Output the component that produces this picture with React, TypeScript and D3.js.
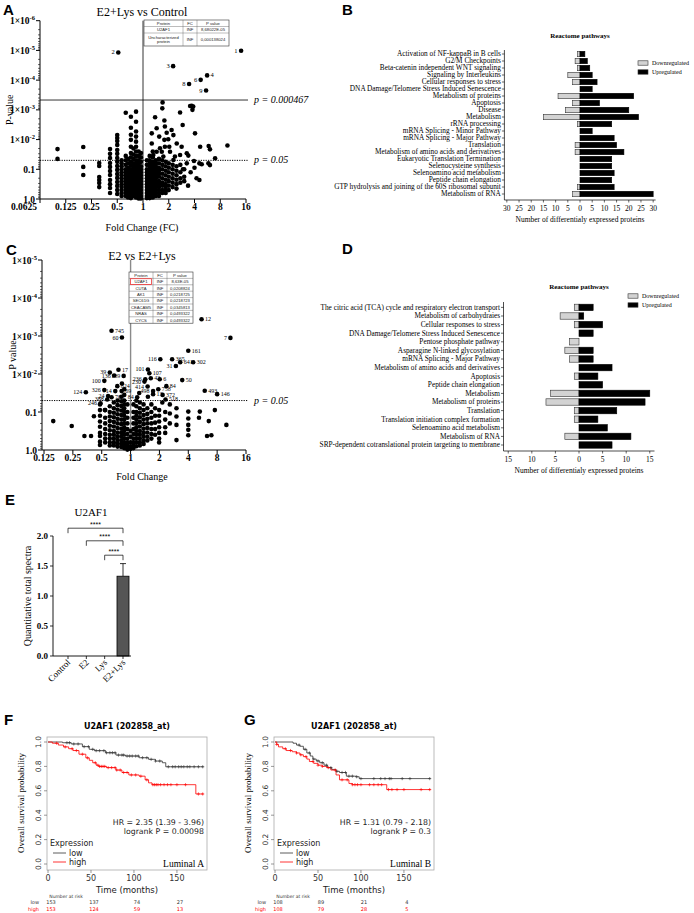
import React from 'react';
import * as d3 from 'd3';

const SERIF = '"Liberation Serif", "Times New Roman", serif';
const SANS = '"Liberation Sans", Arial, sans-serif';
const DJV = '"DejaVu Sans", Verdana, sans-serif';

// ---------- A: E2+Lys vs Control  (log2 FC, -log10 p) ----------
const aXTicks = ['0.0625', '0.125', '0.25', '0.5', '1', '2', '4', '8', '16'];
const aColumns: [number, number[]][] = [
  [-3.32, [1.68, 1.35]],
  [-2.32, [1.75, 1.08, 0.81]],
  [-1.7, [1.21, 1.11, 0.74, 0.64, 0.54, 0.4]],
  [-1.28, [1.68, 1.52, 1.38, 1.21, 1.08, 0.94, 0.81, 0.64, 0.5, 0.37, 0.2]],
  [-1.0, [2.15, 2.05, 1.95, 1.82, 1.65, 1.52, 1.38, 1.25, 1.11, 0.98, 0.84, 0.71, 0.57, 0.44, 0.3, 0.17]],
  [-0.83, [1.3, 1.2, 1.1, 1.0, 0.9, 0.8, 0.7, 0.6, 0.5, 0.4, 0.3, 0.2, 0.1]],
  [-0.67, [2.9, 1.45, 1.3, 1.15, 1.0, 0.9, 0.8, 0.7, 0.6, 0.5, 0.4, 0.3, 0.2, 0.1]],
  [-0.58, [1.35, 1.2, 1.05, 0.95, 0.85, 0.75, 0.65, 0.55, 0.45, 0.35, 0.25, 0.15, 0.05]],
  [-0.47, [2.77, 2.4, 2.16, 1.99, 1.76, 1.55, 1.4, 1.25, 1.12, 1.0, 0.9, 0.8, 0.7, 0.6, 0.5, 0.4, 0.3, 0.2, 0.1, 0.03]],
  [-0.37, [1.7, 1.5, 1.35, 1.2, 1.1, 1.0, 0.9, 0.8, 0.7, 0.6, 0.5, 0.4, 0.3, 0.2, 0.1]],
  [-0.27, [2.94, 2.6, 2.27, 2.1, 1.93, 1.76, 1.6, 1.45, 1.3, 1.18, 1.05, 0.95, 0.85, 0.75, 0.65, 0.55, 0.45, 0.35, 0.25, 0.15, 0.05]],
  [-0.17, [1.6, 1.45, 1.3, 1.2, 1.1, 1.0, 0.9, 0.8, 0.7, 0.6, 0.5, 0.4, 0.3, 0.2, 0.1, 0.02]],
  [-0.08, [1.55, 1.4, 1.25, 1.1, 1.0, 0.9, 0.8, 0.7, 0.6, 0.5, 0.4, 0.3, 0.2, 0.1, 0.02]],
  [0.15, [1.3, 1.15, 1.0, 0.9, 0.8, 0.7, 0.6, 0.5, 0.4, 0.3, 0.2, 0.1, 0.03]],
  [0.26, [1.45, 1.3, 1.2, 1.1, 1.0, 0.9, 0.8, 0.7, 0.6, 0.5, 0.4, 0.3, 0.2, 0.1, 0.03]],
  [0.38, [1.6, 1.4, 1.25, 1.15, 1.05, 0.95, 0.85, 0.75, 0.65, 0.55, 0.45, 0.35, 0.25, 0.15, 0.05]],
  [0.5, [1.3, 1.2, 1.1, 1.0, 0.9, 0.8, 0.7, 0.6, 0.5, 0.4, 0.3, 0.2, 0.1]],
  [0.62, [1.35, 1.2, 1.05, 0.95, 0.85, 0.75, 0.6, 0.5, 0.4, 0.3, 0.2, 0.1]],
  [0.75, [1.3, 1.15, 1.0, 0.85, 0.7, 0.55, 0.45, 0.3, 0.2]],
  [0.88, [1.25, 1.1, 0.95, 0.8, 0.65, 0.5, 0.4, 0.3, 0.2]],
  [1.0, [1.2, 1.05, 0.9, 0.75, 0.6, 0.45, 0.3]],
  [1.15, [1.15, 1.0, 0.85, 0.7, 0.55, 0.4]],
  [1.3, [1.1, 0.95, 0.8, 0.65, 0.5]],
  [1.45, [1.15, 0.9, 0.7, 0.55]],
  [1.6, [1.0, 0.75, 0.6]],
];
const aScatter: [number, number][] = [
  [0.76, 3.25], [0.75, 3.05], [0.47, 2.75], [0.83, 2.64], [1.44, 2.91], [1.83, 3.13], [1.89, 3.14],
  [1.95, 3.11], [1.92, 3.0], [1.54, 2.49], [1.11, 2.32], [2.02, 2.21], [2.22, 1.76], [2.55, 1.78],
  [2.6, 1.67], [3.28, 1.8], [2.8, 1.37], [1.76, 1.46], [1.98, 1.28], [2.19, 1.2], [2.54, 1.2],
  [2.6, 1.14], [2.28, 1.17], [0.34, 2.21], [0.53, 2.38], [0.85, 2.44], [0.92, 2.23], [0.63, 2.1],
  [0.83, 1.99], [0.98, 2.01], [1.18, 2.15], [1.31, 1.87], [1.5, 1.76], [0.85, 1.76], [0.66, 1.71],
  [0.53, 1.59], [1.05, 1.59], [1.24, 1.43], [1.44, 1.48], [1.7, 1.54], [0.79, 1.43], [0.34, 1.87],
  [0.4, 1.48], [0.73, 1.59], [1.02, 1.76], [1.18, 1.31], [1.7, 1.2], [1.55, 1.0], [2.08, 0.7],
  [2.19, 0.64], [1.85, 0.9], [1.3, 0.35], [1.75, 0.45], [2.0, 1.05],
];
const aLabeled: [string, number, number, string][] = [
  ['1', 3.81, 4.99, 'l'], ['2', -0.96, 4.93, 'l'], ['3', 1.17, 4.47, 'l'], ['4', 2.49, 4.16, 'r'],
  ['6', 2.24, 4.01, 'l'], ['8', 1.79, 3.87, 'l'], ['9', 2.45, 3.65, 'l'],
];
const aTableHead = ['Protein', 'FC', 'P value'];
const aTableRows = [['U2AF1', 'INF', '8,68022E-05'], ['Uncharacterized\nprotein', 'INF', '0,000138024']];

// ---------- C: E2 vs E2+Lys ----------
const cXTicks = ['0.125', '0.25', '0.5', '1', '2', '4', '8', '16'];
const cColumns: [number, number[]][] = [
  [-1.06, [1.2, 1.05, 0.9, 0.75, 0.61, 0.45, 0.37, 0.22, 0.13]],
  [-0.88, [1.05, 0.85, 0.7, 0.55, 0.42, 0.3, 0.2]],
  [-0.72, [1.15, 1.0, 0.88, 0.76, 0.64, 0.52, 0.4, 0.3, 0.2, 0.12]],
  [-0.58, [1.25, 1.1, 0.98, 0.86, 0.74, 0.62, 0.5, 0.4, 0.3, 0.2, 0.12]],
  [-0.45, [1.3, 1.18, 1.06, 0.94, 0.82, 0.7, 0.58, 0.46, 0.36, 0.26, 0.17, 0.09]],
  [-0.32, [1.4, 1.28, 1.16, 1.04, 0.92, 0.8, 0.68, 0.56, 0.45, 0.35, 0.25, 0.16, 0.08]],
  [-0.22, [1.6, 1.45, 1.3, 1.2, 1.1, 1.0, 0.9, 0.8, 0.7, 0.6, 0.5, 0.4, 0.3, 0.2, 0.12, 0.05]],
  [-0.11, [1.2, 1.0, 0.85, 0.7, 0.55, 0.42, 0.3, 0.2, 0.12, 0.05, 0.01]],
  [0.0, [0.5, 0.35, 0.2, 0.1, 0.03]],
  [0.1, [1.2, 1.0, 0.85, 0.7, 0.55, 0.42, 0.3, 0.2, 0.12, 0.05]],
  [0.2, [1.3, 1.15, 1.0, 0.9, 0.8, 0.7, 0.6, 0.5, 0.4, 0.3, 0.2, 0.1]],
  [0.32, [1.25, 1.1, 0.98, 0.86, 0.74, 0.62, 0.5, 0.4, 0.3, 0.2, 0.12]],
  [0.45, [1.2, 1.05, 0.92, 0.8, 0.68, 0.56, 0.45, 0.35, 0.25, 0.16]],
  [0.58, [1.1, 0.95, 0.82, 0.7, 0.58, 0.46, 0.35, 0.25]],
  [0.72, [1.2, 1.0, 0.85, 0.7, 0.55, 0.42, 0.3]],
  [0.85, [1.1, 0.9, 0.72, 0.55, 0.4]],
  [0.99, [1.05, 0.9, 0.75, 0.6, 0.45, 0.3, 0.2]],
  [1.2, [1.0, 0.8, 0.6, 0.45]],
  [1.36, [0.96, 0.7]],
  [1.59, [1.1, 0.88, 0.66, 0.26]],
  [2.0, [1.01, 0.83, 0.66, 0.53, 0.39]],
];
const cScatter: [number, number][] = [
  [-2.68, 0.76], [-2.04, 0.63], [-1.6, 0.37], [-1.37, 0.37], [-1.27, 0.89], [-0.89, 1.05],
  [2.4, 1.01], [2.37, 0.85], [2.71, 0.76], [2.92, 1.05], [3.32, 0.66], [2.65, 0.37], [2.8, 0.39],
  [1.36, 1.2], [1.1, 1.25], [-0.3, 1.75], [0.3, 1.5], [0.6, 1.4],
];
const cLabeled: [string, number, number, string][] = [
  ['745', -0.66, 3.14, 'r'], ['60', -0.3, 2.96, 'l'], ['12', 2.46, 3.44, 'r'], ['7', 3.46, 2.95, 'l'],
  ['161', 2.0, 2.61, 'r'], ['365', 1.44, 2.39, 'r'], ['116', 1.03, 2.39, 'l'], ['641', 1.72, 2.31, 'r'],
  ['302', 2.17, 2.31, 'r'], ['31', 1.57, 2.21, 'l'], ['17', -0.42, 2.11, 'r'], ['39', -0.72, 2.04, 'l'],
  ['136', -0.57, 1.96, 'l'], ['189', -0.24, 1.95, 'l'], ['100', -0.91, 1.82, 'l'], ['101', 0.6, 2.12, 'l'],
  ['107', 0.65, 2.02, 'r'], ['236', 0.51, 1.86, 'l'], ['42', 0.7, 1.89, 'r'], ['6', 1.01, 1.86, 'r'],
  ['230', 0.48, 1.8, 'l'], ['50', 1.79, 1.84, 'r'], ['414', 0.59, 1.67, 'l'], ['84', 1.24, 1.68, 'r'],
  ['824', -0.46, 1.68, 'r'], ['326', -0.91, 1.58, 'l'], ['714', -0.53, 1.55, 'l'], ['69', -0.31, 1.55, 'r'],
  ['498', 0.78, 1.55, 'l'], ['758', 0.96, 1.6, 'r'], ['13', 0.78, 1.47, 'r'], ['372', 1.11, 1.45, 'r'],
  ['493', 2.57, 1.56, 'r'], ['146', 3.0, 1.47, 'r'], ['124', -1.55, 1.52, 'l'], ['24', -0.78, 1.42, 'l'],
  ['703', -0.66, 1.39, 'r'], ['388', -0.81, 1.33, 'l'], ['246', -1.04, 1.23, 'l'], ['84', 0.23, 1.39, 'l'],
  ['518', 1.21, 1.33, 'r'],
];
const cTableHead = ['Protein', 'FC', 'P value'];
const cTableRows = [
  ['U2AF1', 'INF', '8,63E-05'], ['CUTA', 'INF', '0,0208824'], ['AK1', 'INF', '0,0218725'],
  ['SEC61G', 'INF', '0,0218723'], ['CEACAM5', 'INF', '0,0345813'], ['NRAS', 'INF', '0,0493322'],
  ['CYCS', 'INF', '0,0493322'],
];

// ---------- B: Reactome pathways (E2+Lys vs Control) ----------
const bPathways = [
  'Activation of NF-kappaB in B cells', 'G2/M Checkpoints', 'Beta-catenin independent WNT signaling',
  'Signaling by Interleukins', 'Cellular responses to stress', 'DNA Damage/Telomere Stress Induced Senescence',
  'Metabolism of proteins', 'Apoptosis', 'Disease', 'Metabolism', 'rRNA processing',
  'mRNA Splicing - Minor Pathway', 'mRNA Splicing - Major Pathway', 'Translation',
  'Metabolism of amino acids and derivatives', 'Eukaryotic Translation Termination',
  'Selenocysteine synthesis', 'Selenoamino acid metabolism', 'Peptide chain elongation',
  'GTP hydrolysis and joining of the 60S ribosomal subunit', 'Metabolism of RNA',
];
const bDown = [1, 2, 1, 5, 3, 0, 9, 3, 6, 15, 1, 0, 0, 2, 2, 0, 0, 0, 0, 1, 3];
const bUp = [2, 3, 4, 5, 7, 5, 22, 8, 20, 24, 13, 5, 14, 15, 18, 13, 13, 14, 13, 14, 30];

// ---------- D: Reactome pathways (E2 vs E2+Lys) ----------
const dPathways = [
  'The citric acid (TCA) cycle and respiratory electron transport', 'Metabolism of carbohydraies',
  'Cellular responses to stress', 'DNA Damage/Telomere Stress Induced Senescence', 'Pentose phosphate pathway',
  'Asparagine N-linked glycosylation', 'mRNA Splicing - Major Pathway', 'Metabolism of amino acids and derivatives',
  'Apoptosis', 'Peptide chain elongation', 'Metabolism', 'Metabolism of proteins', 'Translation',
  'Translation initiation complex formation', 'Selenoamino acid metabolism', 'Metabolism of RNA',
  'SRP-dependent cotranslational protein targeting to membrane',
];
const dDown = [1, 4, 1, 0, 2, 3, 2, 0, 1, 0, 6, 7, 1, 1, 0, 3, 0];
const dUp = [3, 1, 5, 3, 0, 3, 3, 7, 4, 5, 15, 14, 8, 4, 6, 11, 7];

// ---------- E: U2AF1 spectra ----------
const eGroups = ['Control', 'E2', 'Lys', 'E2+Lys'];
const eMeans = [0, 0, 0, 1.33];
const eErr = [0, 0, 0, 0.21];
const eBrackets: [string, string, number][] = [['Control', 'E2+Lys', 2.13], ['E2', 'E2+Lys', 1.92], ['Lys', 'E2+Lys', 1.68]];

// ---------- F / G: Kaplan-Meier (months, survival) ----------
const fLow: [number, number][] = [[0, 1], [17, 0.994], [27, 0.984], [40, 0.962], [48, 0.94], [54, 0.929], [67, 0.912], [79, 0.893], [90, 0.885], [106, 0.871], [117, 0.858], [125, 0.844], [133, 0.83], [137, 0.797], [181, 0.797]];
const fHigh: [number, number][] = [[0, 1], [5, 0.99], [12, 0.975], [18, 0.96], [24, 0.945], [29, 0.93], [36, 0.9], [44, 0.87], [48, 0.85], [52, 0.83], [56, 0.81], [59, 0.8], [68, 0.79], [79, 0.77], [86, 0.75], [94, 0.73], [106, 0.72], [113, 0.69], [117, 0.665], [121, 0.65], [172, 0.574], [181, 0.574]];
const fLowCens = [22, 25, 30, 35, 42, 47, 52, 56, 60, 65, 68, 72, 75, 78, 82, 86, 88, 92, 95, 98, 102, 105, 110, 115, 120, 125, 130, 140, 145, 148, 152, 155, 158, 162, 165, 170, 175, 180];
const fHighCens = [10, 20, 28, 33, 40, 46, 55, 58, 60, 62, 64, 66, 70, 74, 78, 80, 84, 88, 92, 97, 102, 108, 115, 122, 124, 126, 128, 131, 135, 139, 143, 150, 160, 175, 180];
const gLow: [number, number][] = [[0, 1], [21, 0.99], [25, 0.975], [29, 0.965], [33, 0.94], [37, 0.91], [41, 0.885], [44, 0.86], [48, 0.845], [52, 0.83], [57, 0.81], [61, 0.79], [66, 0.775], [71, 0.76], [75, 0.75], [83, 0.72], [94, 0.715], [98, 0.7], [181, 0.7]];
const gHigh: [number, number][] = [[0, 1], [2, 0.98], [4, 0.96], [9, 0.945], [13, 0.93], [20, 0.92], [25, 0.91], [29, 0.895], [33, 0.88], [37, 0.86], [40, 0.84], [45, 0.825], [50, 0.81], [55, 0.8], [60, 0.79], [65, 0.77], [71, 0.73], [75, 0.69], [86, 0.66], [90, 0.65], [130, 0.61], [181, 0.61]];
const gLowCens = [28, 35, 40, 45, 50, 55, 60, 65, 72, 78, 82, 86, 90, 95, 100, 115, 123, 128, 133, 135, 148, 157, 180];
const gHighCens = [2, 12, 18, 25, 30, 36, 44, 50, 55, 62, 70, 78, 84, 90, 93, 96, 100, 110, 115, 120, 124, 132, 136, 142, 150, 170, 180];
const riskTimes = [0, 50, 100, 150];
const fRiskLow = [153, 137, 74, 27];
const fRiskHigh = [153, 124, 59, 13];
const gRiskLow = [108, 89, 21, 4];
const gRiskHigh = [108, 79, 28, 5];

function yTickLabel(n: number) {
  if (n === 0) return '1.0';
  if (n === 1) return '0.1';
  return (
    <>
      1×10<tspan dy={-4} fontSize={6.5}>-{n}</tspan>
    </>
  );
}

function Table({ colEdges, rowEdges, head, rows, highlight }: any) {
  const all = [head, ...rows];
  return (
    <g fontFamily={SANS} fontSize={4.2} fill="#222">
      <rect x={colEdges[0]} y={rowEdges[0]} width={colEdges[3] - colEdges[0]} height={rowEdges[rowEdges.length - 1] - rowEdges[0]} fill="#fff" stroke="#333" strokeWidth={0.6} />
      {rowEdges.slice(1, -1).map((r: number, i: number) => (
        <line key={'r' + i} x1={colEdges[0]} x2={colEdges[3]} y1={r} y2={r} stroke="#555" strokeWidth={0.4} />
      ))}
      {colEdges.slice(1, -1).map((c: number, i: number) => (
        <line key={'c' + i} x1={c} x2={c} y1={rowEdges[0]} y2={rowEdges[rowEdges.length - 1]} stroke="#555" strokeWidth={0.4} />
      ))}
      {all.map((row: string[], ri: number) =>
        row.map((cell, ci) => {
          const cx = (colEdges[ci] + colEdges[ci + 1]) / 2;
          const cy = (rowEdges[ri] + rowEdges[ri + 1]) / 2;
          const lines = cell.split('\n');
          return (
            <text key={ri + '-' + ci} x={cx} y={cy + 1.5 - (lines.length - 1) * 2.3} textAnchor="middle">
              {lines.map((l, li) => (
                <tspan key={li} x={cx} dy={li === 0 ? 0 : 4.6}>{l}</tspan>
              ))}
            </text>
          );
        })
      )}
      {highlight !== undefined && (
        <rect x={colEdges[0] + 1.5} y={rowEdges[highlight + 1] + 0.3} width={colEdges[1] - colEdges[0] - 3} height={rowEdges[highlight + 2] - rowEdges[highlight + 1] - 0.6} fill="none" stroke="#e33" strokeWidth={0.8} />
      )}
    </g>
  );
}

function Volcano(p: any) {
  const x = d3.scaleLinear().domain(p.l2Domain).range([p.left, p.right]);
  const y = d3.scaleLinear().domain([0, p.nlpMax]).range([p.bottom, p.top]);
  const pts: [number, number][] = p.columns
    .flatMap(([l2, vs]: [number, number[]]) => vs.map((v) => [l2, v] as [number, number]))
    .concat(p.scatter);
  const majors = d3.range(0, p.nlpMax + 1);
  const minors = d3.range(0, p.nlpMax).flatMap((d) => d3.range(2, 10).map((k) => d + 1 - Math.log10(k)));
  const xt = d3.range(p.firstL2, p.firstL2 + p.xTicks.length);
  return (
    <g fontFamily={SERIF} fill="#000">
      <text x={p.titleX} y={p.titleY} textAnchor="middle" fontSize={12}>{p.title}</text>
      {/* vertical FC = 1 line */}
      <line x1={x(0)} x2={x(0)} y1={p.top} y2={p.bottom} stroke={p.midColor} strokeWidth={p.midWidth} />
      {p.cutoffs.map((c: any, i: number) => (
        <g key={i}>
          <line x1={p.left} x2={p.right + 2} y1={y(c.nlp)} y2={y(c.nlp)} stroke="#000" strokeWidth={c.dotted ? 1 : 0.8} strokeDasharray={c.dotted ? '1.2 1.2' : undefined} />
          <text x={p.right + 8} y={y(c.nlp) + 3} fontSize={10} fontStyle="italic">{c.label}</text>
        </g>
      ))}
      {pts.map((d, i) => (
        <circle key={i} cx={x(d[0])} cy={y(d[1])} r={2.3} fill="#000" />
      ))}
      {p.labeled.map(([lab, l2, v, side]: [string, number, number, string], i: number) => (
        <g key={'lab' + i}>
          <circle cx={x(l2)} cy={y(v)} r={2.3} fill="#000" />
          <text x={x(l2) + (side === 'r' ? 3.5 : -3.5)} y={y(v) + 2} fontSize={p.labelSize} fill="#000" textAnchor={side === 'r' ? 'start' : 'end'}>{lab}</text>
        </g>
      ))}
      {p.table && <Table {...p.table} />}
      {/* axes */}
      <line x1={p.left} x2={p.left} y1={p.top} y2={p.bottom} stroke="#000" strokeWidth={1} />
      <line x1={p.left} x2={p.right} y1={p.bottom} y2={p.bottom} stroke="#000" strokeWidth={1} />
      {majors.map((m) => (
        <g key={'m' + m}>
          <line x1={p.left - 4} x2={p.left} y1={y(m)} y2={y(m)} stroke="#000" />
          <text x={p.left - 5} y={y(m) + 3.5} textAnchor="end" fontSize={9.5} fontWeight="bold">{yTickLabel(m)}</text>
        </g>
      ))}
      {minors.map((m, i) => (
        <line key={'n' + i} x1={p.left - 2} x2={p.left} y1={y(m)} y2={y(m)} stroke="#000" strokeWidth={0.6} />
      ))}
      {xt.map((t, i) => (
        <g key={'x' + t}>
          <line x1={x(t)} x2={x(t)} y1={p.bottom} y2={p.bottom + 4} stroke="#000" />
          <text x={x(t) + (i === 0 ? p.firstTickDx : 0)} y={p.bottom + 11} textAnchor="middle" fontSize={9.5} fontWeight="bold">{p.xTicks[i]}</text>
        </g>
      ))}
      <text x={p.titleX} y={p.xLabelY} textAnchor="middle" fontSize={10}>{p.xLabel}</text>
      <text transform={`translate(${p.yLabelX},${(p.top + p.bottom) / 2}) rotate(-90)`} textAnchor="middle" fontSize={10}>{p.yLabel}</text>
    </g>
  );
}

function Pathways(p: any) {
  const x = d3.scaleLinear().domain(p.domain).range(p.range);
  const n = p.cats.length;
  const y = d3.scaleBand().domain(p.cats).range([p.rowTop - p.rowStep / 2, p.rowTop + (n - 0.5) * p.rowStep]);
  const yc = (c: string) => (y(c) as number) + y.bandwidth() / 2;
  const ticks = d3.range(-p.tickMax, p.tickMax + 1, 5);
  const axisX = p.range[0];
  return (
    <g fontFamily={SERIF} fill="#000">
      <text x={x(0)} y={p.titleY} textAnchor="middle" fontSize={7} fontWeight="bold">Reactome pathways</text>
      {['Downregulated', 'Upregulated'].map((t, i) => (
        <g key={t}>
          <rect x={p.legendX} y={p.legendY + i * 9 - 2.2} width={10} height={4.4} fill={i === 0 ? '#d3d3d3' : '#000'} stroke="#333" strokeWidth={0.6} />
          <text x={p.legendX + 14} y={p.legendY + i * 9 + 2} fontSize={6}>{t}</text>
        </g>
      ))}
      {p.cats.map((c: string, i: number) => (
        <g key={c}>
          {p.down[i] > 0 && (
            <rect x={x(-p.down[i])} y={yc(c) - p.barH / 2} width={x(0) - x(-p.down[i])} height={p.barH} fill="#d3d3d3" stroke="#333" strokeWidth={0.6} />
          )}
          {p.up[i] > 0 && (
            <rect x={x(0)} y={yc(c) - p.barH / 2} width={x(p.up[i]) - x(0)} height={p.barH} fill="#000" stroke="#000" strokeWidth={0.6} />
          )}
          <line x1={axisX - 2.5} x2={axisX} y1={yc(c)} y2={yc(c)} stroke="#000" strokeWidth={0.6} />
          <text x={axisX - 3.5} y={yc(c) + 2.4} textAnchor="end" fontSize={p.labelSize}>{c}</text>
        </g>
      ))}
      <line x1={axisX} x2={axisX} y1={p.axisTop} y2={p.axisY} stroke="#000" strokeWidth={0.7} />
      <line x1={p.range[0]} x2={p.range[1]} y1={p.axisY} y2={p.axisY} stroke="#000" strokeWidth={0.7} />
      {ticks.map((t) => (
        <g key={t}>
          <line x1={x(t)} x2={x(t)} y1={p.axisY} y2={p.axisY + 2.5} stroke="#000" strokeWidth={0.6} />
          <text x={x(t)} y={p.axisY + 11} textAnchor="middle" fontSize={7.5}>{Math.abs(t)}</text>
        </g>
      ))}
      <text x={x(0)} y={p.axisY + 22} textAnchor="middle" fontSize={7.5}>Number of differentialy expressed proteins</text>
    </g>
  );
}

function BarE() {
  const x = d3.scalePoint().domain(eGroups).range([68, 123]);
  const y = d3.scaleLinear().domain([0, 2]).range([656, 536]);
  const yt = d3.range(0, 2.01, 0.5);
  return (
    <g fontFamily={SERIF} fill="#000">
      <text x={91} y={516} textAnchor="middle" fontSize={11}>U2AF1</text>
      {eGroups.map((g, i) => (
        <g key={g}>
          {eMeans[i] > 0 && (
            <g>
              <line x1={x(g)} x2={x(g)} y1={y(eMeans[i])} y2={y(eMeans[i] + eErr[i])} stroke="#000" strokeWidth={0.8} />
              <line x1={(x(g) as number) - 3} x2={(x(g) as number) + 3} y1={y(eMeans[i] + eErr[i])} y2={y(eMeans[i] + eErr[i])} stroke="#000" strokeWidth={0.8} />
              <rect x={(x(g) as number) - 6} y={y(eMeans[i])} width={12} height={y(0) - y(eMeans[i])} fill="#555" stroke="#000" strokeWidth={0.8} />
            </g>
          )}
          <line x1={x(g)} x2={x(g)} y1={656} y2={659} stroke="#000" strokeWidth={0.8} />
          <text transform={`translate(${(x(g) as number) + 3},${663}) rotate(-45)`} textAnchor="end" fontSize={9}>{g}</text>
        </g>
      ))}
      {eBrackets.map(([a, b, v]) => (
        <g key={a}>
          <path d={`M${x(a)},${y(v) + 5}V${y(v)}H${x(b)}V${y(v) + 5}`} fill="none" stroke="#000" strokeWidth={0.7} />
          <text x={((x(a) as number) + (x(b) as number)) / 2} y={y(v) - 1.5} textAnchor="middle" fontSize={7} fontFamily={SANS}>****</text>
        </g>
      ))}
      <line x1={53} x2={53} y1={y(2)} y2={y(0)} stroke="#000" strokeWidth={0.9} />
      <line x1={53} x2={131} y1={y(0)} y2={y(0)} stroke="#000" strokeWidth={0.9} />
      {yt.map((t) => (
        <g key={t}>
          <line x1={50} x2={53} y1={y(t)} y2={y(t)} stroke="#000" strokeWidth={0.8} />
          <text x={48} y={y(t) + 3.2} textAnchor="end" fontSize={9} fontWeight="bold">{t.toFixed(1)}</text>
        </g>
      ))}
      <text transform="translate(31,596) rotate(-90)" textAnchor="middle" fontSize={10}>Quantitative total spectra</text>
    </g>
  );
}

function KM(p: any) {
  const x = d3.scaleLinear().domain([-1.2, 185]).range([p.ox, p.ox + 160]);
  const y = d3.scaleLinear().domain([0, 1]).range([864, 742]);
  const line = d3.line<[number, number]>().x((d) => x(d[0])).y((d) => y(d[1])).curve(d3.curveStepAfter);
  const survAt = (steps: [number, number][], t: number) => {
    let s = 1;
    for (const [tt, v] of steps) if (tt <= t) s = v;
    return s;
  };
  const cens = (steps: [number, number][], times: number[], color: string) =>
    times.map((t, i) => {
      const cx = x(t), cy = y(survAt(steps, t));
      return <path key={color + i} d={`M${cx - 1.6},${cy}H${cx + 1.6}M${cx},${cy - 1.6}V${cy + 1.6}`} stroke={color} strokeWidth={0.6} />;
    });
  const cx = p.ox + 80;
  return (
    <g fontFamily={DJV}>
      <text x={cx} y={729} textAnchor="middle" fontSize={8} fontWeight="bold">{p.title}</text>
      <rect x={p.ox} y={737} width={160} height={133} fill="none" stroke="#aaa" strokeWidth={0.8} />
      {d3.range(0, 1.01, 0.2).map((t) => (
        <g key={t}>
          <line x1={p.ox - 3} x2={p.ox} y1={y(t)} y2={y(t)} stroke="#555" strokeWidth={0.6} />
          <text transform={`translate(${p.ox - 6},${y(t)}) rotate(-90)`} textAnchor="middle" fontSize={7.5} fill="#333">{t.toFixed(1)}</text>
        </g>
      ))}
      {riskTimes.map((t) => (
        <g key={t}>
          <line x1={x(t)} x2={x(t)} y1={870} y2={873} stroke="#555" strokeWidth={0.6} />
          <text x={x(t)} y={881} textAnchor="middle" fontSize={8} fill="#333">{t}</text>
        </g>
      ))}
      <text x={cx} y={893} textAnchor="middle" fontSize={8.5} fill="#222">Time (months)</text>
      <text transform={`translate(${p.ox - 23},803) rotate(-90)`} textAnchor="middle" fontSize={9} fontFamily={SERIF}>Overall survival probability</text>
      <path d={line(p.low) as string} fill="none" stroke="#333" strokeWidth={0.8} />
      <path d={line(p.high) as string} fill="none" stroke="#f00" strokeWidth={0.8} />
      {cens(p.low, p.lowCens, '#333')}
      {cens(p.high, p.highCens, '#f00')}
      <text x={p.ox + 3} y={846} fontSize={8} fill="#222">Expression</text>
      <line x1={p.ox + 6} x2={p.ox + 19} y1={853} y2={853} stroke="#333" strokeWidth={0.8} />
      <line x1={p.ox + 6} x2={p.ox + 19} y1={862} y2={862} stroke="#f00" strokeWidth={0.8} />
      <text x={p.ox + 22} y={856} fontSize={8} fill="#222">low</text>
      <text x={p.ox + 22} y={865} fontSize={8} fill="#222">high</text>
      <text x={p.ox + 157} y={825} textAnchor="end" fontSize={7.8} fill="#222">{p.hr}</text>
      <text x={p.ox + 157} y={834} textAnchor="end" fontSize={7.8} fill="#222">{p.logrank}</text>
      <text x={p.ox + 157} y={867} textAnchor="end" fontSize={9.5} fontFamily={SERIF}>{p.subtype}</text>
      <text x={x(0) + 18} y={898} textAnchor="middle" fontSize={4.5} fill="#333">Number at risk</text>
      <text x={x(0) - 9} y={904} textAnchor="end" fontSize={5} fill="#333">low</text>
      <text x={x(0) - 9} y={911} textAnchor="end" fontSize={5} fill="#f00">high</text>
      {riskTimes.map((t, i) => (
        <g key={'r' + t}>
          <text x={x(t) + 3} y={904} textAnchor="middle" fontSize={5} fill="#333">{p.riskLow[i]}</text>
          <text x={x(t) + 3} y={911} textAnchor="middle" fontSize={5} fill="#f00">{p.riskHigh[i]}</text>
        </g>
      ))}
    </g>
  );
}

export default function App() {
  const letters: [string, number, number][] = [['A', 3, 15], ['B', 342, 15], ['C', 6, 255], ['D', 342, 254], ['E', 5, 505], ['F', 4, 725], ['G', 244, 725]];
  return (
    <svg width={694} height={913} style={{ position: 'absolute', left: 0, top: 0, background: '#fff' }}>
      <rect width={694} height={913} fill="#fff" />
      {letters.map(([l, lx, ly]) => (
        <text key={l} x={lx} y={ly} fontFamily={SANS} fontWeight="bold" fontSize={15}>{l}</text>
      ))}
      <Volcano
        left={40} right={246} top={20.7} bottom={199} l2Domain={[-4, 4]} nlpMax={6}
        xTicks={aXTicks} firstL2={-4} firstTickDx={-16}
        columns={aColumns} scatter={aScatter} labeled={aLabeled} labelSize={6.5}
        midColor="#000" midWidth={0.8}
        cutoffs={[{ nlp: -Math.log10(0.000467), label: 'p = 0.000467', dotted: false }, { nlp: -Math.log10(0.05), label: 'p = 0.05', dotted: true }]}
        title="E2+Lys vs Control" titleX={142} titleY={16}
        xLabel="Fold Change (FC)" xLabelY={231} yLabel="P-value" yLabelX={13}
        table={{ colEdges: [144, 183, 197, 229], rowEdges: [20, 26.5, 33, 46], head: aTableHead, rows: aTableRows }}
      />
      <Volcano
        left={42} right={246} top={260} bottom={450} l2Domain={[-3.07, 4]} nlpMax={5}
        xTicks={cXTicks} firstL2={-3} firstTickDx={0}
        columns={cColumns} scatter={cScatter} labeled={cLabeled} labelSize={6}
        midColor="#8a8a8a" midWidth={1.4}
        cutoffs={[{ nlp: -Math.log10(0.05), label: 'p = 0.05', dotted: true }]}
        title="E2 vs E2+Lys" titleX={142} titleY={260}
        xLabel="Fold Change" xLabelY={480} yLabel="P value" yLabelX={16}
        table={{ colEdges: [129, 153, 167, 193], rowEdges: d3.range(0, 9).map((i) => 272 + i * 6.4), head: cTableHead, rows: cTableRows, highlight: 0 }}
      />
      <Pathways
        cats={bPathways} down={bDown} up={bUp} domain={[-31, 31]} range={[504.4, 655.6]} tickMax={30}
        rowTop={54} rowStep={7} barH={5.4} axisTop={50} axisY={200} titleY={38}
        legendX={638} legendY={63} labelSize={7.3}
      />
      <Pathways
        cats={dPathways} down={dDown} up={dUp} domain={[-16, 16]} range={[503.5, 654.5]} tickMax={15}
        rowTop={307.4} rowStep={8.6} barH={6.4} axisTop={302} axisY={451} titleY={289}
        legendX={628} legendY={296} labelSize={7.3}
      />
      <BarE />
      <KM ox={47} title="U2AF1 (202858_at)" low={fLow} high={fHigh} lowCens={fLowCens} highCens={fHighCens}
        hr="HR = 2.35 (1.39 - 3.96)" logrank="logrank P = 0.00098" subtype="Luminal A" riskLow={fRiskLow} riskHigh={fRiskHigh} />
      <KM ox={274} title="U2AF1 (202858_at)" low={gLow} high={gHigh} lowCens={gLowCens} highCens={gHighCens}
        hr="HR = 1.31 (0.79 - 2.18)" logrank="logrank P = 0.3" subtype="Luminal B" riskLow={gRiskLow} riskHigh={gRiskHigh} />
    </svg>
  );
}
